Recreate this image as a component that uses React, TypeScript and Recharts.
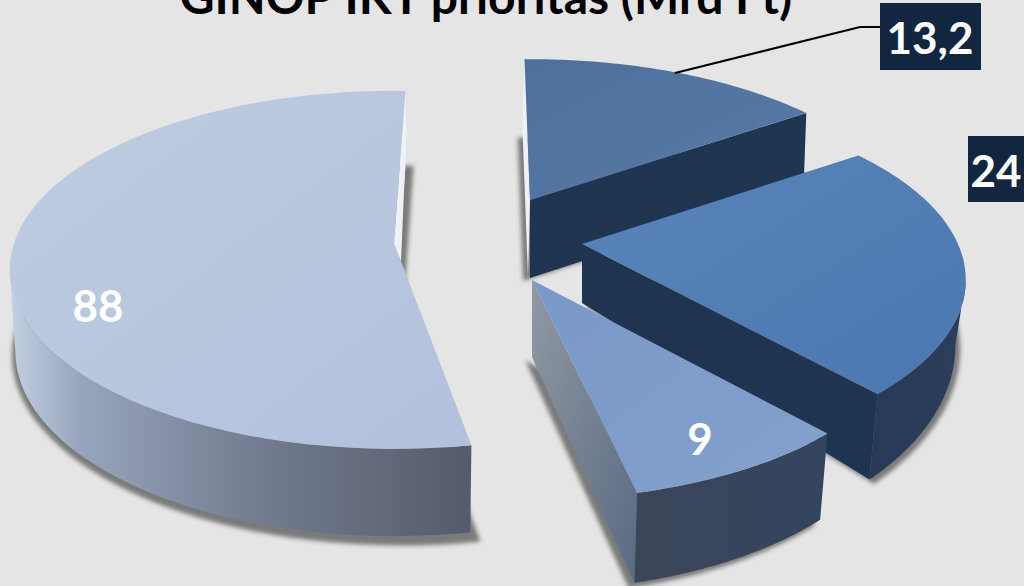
import { Pie, PieChart } from 'recharts'

const TITLE = 'GINOP IKT prioritás (Mrd Ft)'

// printed values of the slices
const labels = ['13,2', '24', '9', '88']
const values = [13.2, 24, 9, 88]
// the drawing in the source is a distorted 3D pie, so its wedges are not proportional
// to the printed values: these are the sweeps (deg)
const sweeps = [56, 83, 29, 192]

const topColors = [
  ['#4f709c', '#577aa6'],
  ['#5a84b8', '#4a78b0'],
  ['#7a98c8', '#84a0cc'],
  ['#bfcde1', '#b2c0dc'],
]
const edgeColors = [
  ['#1f3450', '#20354f'],
  ['#1f3450', '#1f3450'],
  ['#9098a2', '#5a6a82'],
  ['#eef2f8', '#eef2f8'],
]
const rimColors = [
  ['#2c3f5c', '#2c3f5c'],
  ['#2b3d5b', '#273a58'],
  ['#34445f', '#3b4658'],
  ['#545b6a', '#c4d0e2'],
]

// layout of each exploded slice
const offsets = [[50, -40], [102, 4], [52, 40], [-86, 3]]
const spreads = [[3.76, 1.69, 0.2], [3.76, 1.72, 0.2], [3.76, 1.76, 0.2], [3.8, 1.75, 0.15]]
const twists = [0, 0, 0, 3]
const depths = [[78, 0.02], [59, 0.176], [77, 0.06], [81, 0.03]]
const shrink = [0.99, 0.973, 0.975, 0.985]
const shadows = [[-7, 3, 1.0], [3, 3, 1.005], [-7, 3, 1.01], [8, 3, 1.03]]
// thin light strip along a cut edge: which edge, then offsets at the rim and at the apex
const lips: any[] = [
  { edge: 'start', rim: [-2, 70], apex: [-2, 78] },
  null,
  null,
  { edge: 'end', rim: [1, 40], apex: [7, 19] },
]
const labelSpots = [[930, 37], [996, 170], [700, 438], [98, 305]]
const boxes = [[880, 3, 101, 67], [968, 136, 56, 66], null, null]

const CX = 480
const CY = 240
const R = 100

const chartData = labels.map((label, i) => ({ label, value: values[i], sweep: sweeps[i] }))

function Slice(props: any) {
  const { cx, cy, outerRadius, startAngle, endAngle, index } = props
  const ax = cx + offsets[index][0]
  const ay = cy + offsets[index][1]
  const [sx, sy, k] = spreads[index]
  const [d0, dg] = depths[index]
  const s = shrink[index]
  const from = 90 - startAngle + twists[index]
  const to = 90 - endAngle + twists[index]

  const rel = (deg: number) => {
    const t = (deg * Math.PI) / 180
    const w = 1 + k * Math.cos(t)
    return [(outerRadius * sx * Math.sin(t)) / w, (-outerRadius * sy * Math.cos(t)) / w]
  }
  const top = ([x, y]: number[]) => [ax + x, ay + y]
  const low = ([x, y]: number[]) => [ax + x * s, ay + y + d0 + dg * y]
  const arc = (a: number, b: number) => {
    const pts = []
    for (let i = 0; i <= 72; i++) pts.push(rel(a + ((b - a) * i) / 72))
    return pts
  }
  const poly = (pts: number[][]) => pts.map((p) => p[0].toFixed(1) + ',' + p[1].toFixed(1)).join(' ')

  const sil = (Math.asin(k) * 180) / Math.PI
  const rimFrom = Math.max(from, 90 + sil)
  const rimTo = Math.min(to, 270 - sil)
  const hasRim = rimTo > rimFrom
  const rimPts = hasRim ? arc(rimFrom, rimTo) : []

  const rim = arc(from, to)
  const end = rel(to)
  const [shx, shy, shs] = shadows[index]
  const lip = lips[index]
  const lipEnd = lip ? rel(lip.edge === 'end' ? to : from) : end

  return (
    <g>
      <defs>
        <linearGradient id={'top' + index} x1="0" y1="0" x2="1" y2="1">
          <stop offset="0" stopColor={topColors[index][0]} />
          <stop offset="1" stopColor={topColors[index][1]} />
        </linearGradient>
        <linearGradient id={'edge' + index} x1="0" y1="0" x2="1" y2="1">
          <stop offset="0" stopColor={edgeColors[index][0]} />
          <stop offset="1" stopColor={edgeColors[index][1]} />
        </linearGradient>
        <linearGradient id={'rim' + index} x1="1" y1="0" x2="0" y2="0">
          <stop offset="0" stopColor={rimColors[index][0]} />
          {index === 3 && <stop offset="0.45" stopColor="#727b8f" />}
          {index === 3 && <stop offset="0.85" stopColor="#98a5bc" />}
          <stop offset="1" stopColor={rimColors[index][1]} />
        </linearGradient>
        <filter id={'blur' + index} x="-10%" y="-10%" width="120%" height="120%">
          <feGaussianBlur stdDeviation="2" />
        </filter>
      </defs>
      <polygon
        points={poly([[0, 0], ...rim].map((p) => low([p[0] * shs + shx, p[1] * shs + shy])))}
        fill="#333"
        fillOpacity={0.6}
        filter={`url(#blur${index})`}
      />
      {lip && (
        <polygon
          points={poly([
            top([0, 0]),
            top(lipEnd),
            top([lipEnd[0] + lip.rim[0], lipEnd[1] + lip.rim[1]]),
            top(lip.apex),
          ])}
          fill="#eef2f8"
        />
      )}
      <polygon points={poly([top([0, 0]), top(end), low(end), low([0, 0])])} fill={`url(#edge${index})`} />
      {hasRim && (
        <polygon points={poly([...rimPts.map(top), ...rimPts.slice().reverse().map(low)])} fill={`url(#rim${index})`} />
      )}
      <polygon points={poly([top([0, 0]), ...rim.map(top)])} fill={`url(#top${index})`} />
    </g>
  )
}

function SliceLabel(props: any) {
  const { index } = props
  const box = boxes[index]
  const [x, y] = labelSpots[index]
  return (
    <g>
      {index === 0 && <polyline points="675,73 860,27 880,27" fill="none" stroke="#000" strokeWidth={2} />}
      {box && <rect x={box[0]} y={box[1]} width={box[2]} height={box[3]} fill="#12263f" />}
      <text
        x={x}
        y={y}
        fill="#fff"
        textAnchor="middle"
        dominantBaseline="central"
        fontFamily="Lato, sans-serif"
        fontWeight={700}
        fontSize={44}
      >
        {labels[index]}
      </text>
    </g>
  )
}

export default function App() {
  return (
    <div style={{ position: 'absolute', left: 0, top: 0, width: 1024, height: 586, background: '#e5e5e5', overflow: 'hidden' }}>
      <PieChart width={1024} height={586} margin={{ top: 0, right: 0, bottom: 0, left: 0 }}>
        <Pie
          data={chartData}
          dataKey="sweep"
          nameKey="label"
          cx={CX}
          cy={CY}
          outerRadius={R}
          startAngle={91}
          endAngle={-269}
          stroke="none"
          shape={Slice}
          label={SliceLabel}
          labelLine={false}
          isAnimationActive={false}
        />
      </PieChart>
      <div
        style={{
          position: 'absolute',
          left: 0,
          width: 972,
          top: -34,
          textAlign: 'center',
          fontFamily: 'Lato, sans-serif',
          fontWeight: 700,
          fontSize: 48,
          lineHeight: '60px',
          color: '#000',
          whiteSpace: 'nowrap',
        }}
      >
        {TITLE}
      </div>
    </div>
  )
}
